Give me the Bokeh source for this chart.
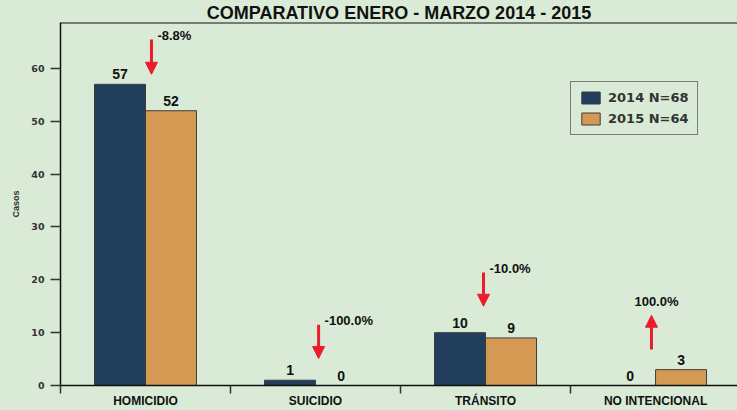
from bokeh.plotting import figure
from bokeh.models import (Range1d, FixedTicker, Span, Arrow, NormalHead, Legend,
                          LegendItem, ColumnDataSource, LabelSet)
from bokeh.core.properties import value
from bokeh.embed import file_html
from bokeh.resources import INLINE

# ---------------- data ----------------
title = "COMPARATIVO ENERO - MARZO 2014 - 2015"
categories = ["HOMICIDIO", "SUICIDIO", "TRÁNSITO", "NO INTENCIONAL"]
cases_2014 = [57, 1, 10, 0]
cases_2015 = [52, 0, 9, 3]
legend_labels = ["2014 N=68", "2015 N=64"]
change_labels = ["-8.8%", "-100.0%", "-10.0%", "100.0%"]
y_ticks = [0, 10, 20, 30, 40, 50, 60]

# ---------------- style / layout ----------------
BG = "#d9ebd6"
BLUE = "#213f5c"
ORANGE = "#d49a54"
RED = "#ec1c2b"
FONT = "Liberation Sans"
WIDE_FONT = "DejaVu Sans"
BAR_W = 0.30
Y_MAX = 68.7
X_MAX = 3.982
# arrow tail / tip heights (annotation layout) and small x nudges
ARROW_TAIL = [65.5, 11.5, 21.4, 6.8]
ARROW_TIP = [58.9, 5.1, 15.0, 13.3]
ARROW_DX = [0.035, 0.018, -0.012, -0.024]

n = len(categories)
centers = [i + 0.5 for i in range(n)]
x14 = [c - BAR_W / 2 for c in centers]
x15 = [c + BAR_W / 2 for c in centers]

p = figure(width=737, height=410, output_backend="svg", toolbar_location=None,
           x_range=Range1d(0, X_MAX), y_range=Range1d(0, Y_MAX),
           min_border_left=60, min_border_right=0, min_border_top=0,
           min_border_bottom=0)
p.background_fill_color = BG
p.border_fill_color = BG
p.outline_line_color = None
p.xgrid.visible = False
p.ygrid.visible = False

p.title.text = title
p.title.align = "center"
p.title.offset = -42
p.title.standoff = 0
p.title.text_line_height = 1.0
p.title.text_font = FONT
p.title.text_font_style = "bold"
p.title.text_font_size = "18px"
p.title.text_color = "#111111"

src14 = ColumnDataSource(dict(x=x14, top=cases_2014, lab=[str(v) for v in cases_2014]))
src15 = ColumnDataSource(dict(x=x15, top=cases_2015, lab=[str(v) for v in cases_2015]))

r14 = p.vbar(x="x", top="top", width=BAR_W, bottom=0, source=src14,
             fill_color=BLUE, line_color="#3c3c3c", line_width=1)
r15 = p.vbar(x="x", top="top", width=BAR_W, bottom=0, source=src15,
             fill_color=ORANGE, line_color="#3c3c3c", line_width=1)

for s in (src14, src15):
    p.add_layout(LabelSet(x="x", y="top", text="lab", source=s, y_offset=5,
                          text_align="center", text_baseline="bottom",
                          text_font=value(FONT), text_font_style="bold",
                          text_font_size="14px", text_color="#111111"))

# change arrows
ax = [c + d for c, d in zip(centers, ARROW_DX)]
arrow_src = ColumnDataSource(dict(x0=ax, y0=ARROW_TAIL, x1=ax, y1=ARROW_TIP))
p.add_layout(Arrow(x_start="x0", y_start="y0", x_end="x1", y_end="y1",
                   source=arrow_src, line_color=RED, line_width=3,
                   end=NormalHead(size=12, fill_color=RED, line_color=RED)))

down = [b < a for a, b in zip(cases_2014, cases_2015)]
dn_src = ColumnDataSource(dict(
    x=[x for x, d in zip(ax, down) if d],
    y=[y for y, d in zip(ARROW_TAIL, down) if d],
    t=[t for t, d in zip(change_labels, down) if d]))
up_src = ColumnDataSource(dict(
    x=[x for x, d in zip(ax, down) if not d],
    y=[y for y, d in zip(ARROW_TIP, down) if not d],
    t=[t for t, d in zip(change_labels, down) if not d]))
p.add_layout(LabelSet(x="x", y="y", text="t", source=dn_src, x_offset=6, y_offset=4,
                      text_align="left", text_baseline="middle",
                      text_font=value(FONT), text_font_style="bold",
                      text_font_size="13px", text_color="#111111"))
p.add_layout(LabelSet(x="x", y="y", text="t", source=up_src, x_offset=5, y_offset=14,
                      text_align="center", text_baseline="middle",
                      text_font=value(FONT), text_font_style="bold",
                      text_font_size="13px", text_color="#111111"))

# top border line
p.add_layout(Span(location=Y_MAX, dimension="width", line_color="#111111", line_width=2))

# axes
ya = p.yaxis[0]
ya.ticker = FixedTicker(ticks=y_ticks)
ya.axis_line_color = "#111111"
ya.axis_line_width = 1.5
ya.major_tick_out = 10
ya.major_tick_in = 0
ya.major_tick_line_color = "#333333"
ya.major_tick_line_width = 1.5
ya.minor_tick_line_color = None
ya.major_label_standoff = 6
ya.major_label_text_font = WIDE_FONT
ya.major_label_text_font_style = "bold"
ya.major_label_text_font_size = "9.5px"
ya.major_label_text_color = "#333333"
ya.axis_label = "Casos"
ya.axis_label_text_font = FONT
ya.axis_label_text_font_style = "bold"
ya.axis_label_text_font_size = "9px"
ya.axis_label_text_color = "#333333"
ya.axis_label_standoff = 7

xa = p.xaxis[0]
xa.ticker = FixedTicker(ticks=centers, minor_ticks=list(range(n)))
xa.major_label_overrides = {c: lab for c, lab in zip(centers, categories)}
xa.axis_line_color = "#111111"
xa.axis_line_width = 1.5
xa.major_tick_line_color = None
xa.major_tick_out = 0
xa.major_tick_in = 0
xa.minor_tick_line_color = "#333333"
xa.minor_tick_line_width = 1.5
xa.minor_tick_out = 8
xa.minor_tick_in = 0
xa.major_label_standoff = 0
xa.major_label_text_font = FONT
xa.major_label_text_font_style = "bold"
xa.major_label_text_font_size = "12px"
xa.major_label_text_color = "#111111"

legend = Legend(items=[LegendItem(label=legend_labels[0], renderers=[r14]),
                       LegendItem(label=legend_labels[1], renderers=[r15])],
                location=(510, 250), orientation="vertical",
                glyph_width=23, glyph_height=15, label_height=15,
                label_standoff=6, spacing=6, padding=8, margin=0,
                label_text_font=WIDE_FONT, label_text_font_style="bold",
                label_text_font_size="13px", label_text_color="#333333",
                background_fill_color=BG, background_fill_alpha=1.0,
                border_line_color="#111111", border_line_width=1.5)
p.add_layout(legend)

html = file_html(p, INLINE)
html = html.replace("<head>", "<head><style>body{background:%s;}</style>" % BG, 1)
open("out.html", "w").write(html)
